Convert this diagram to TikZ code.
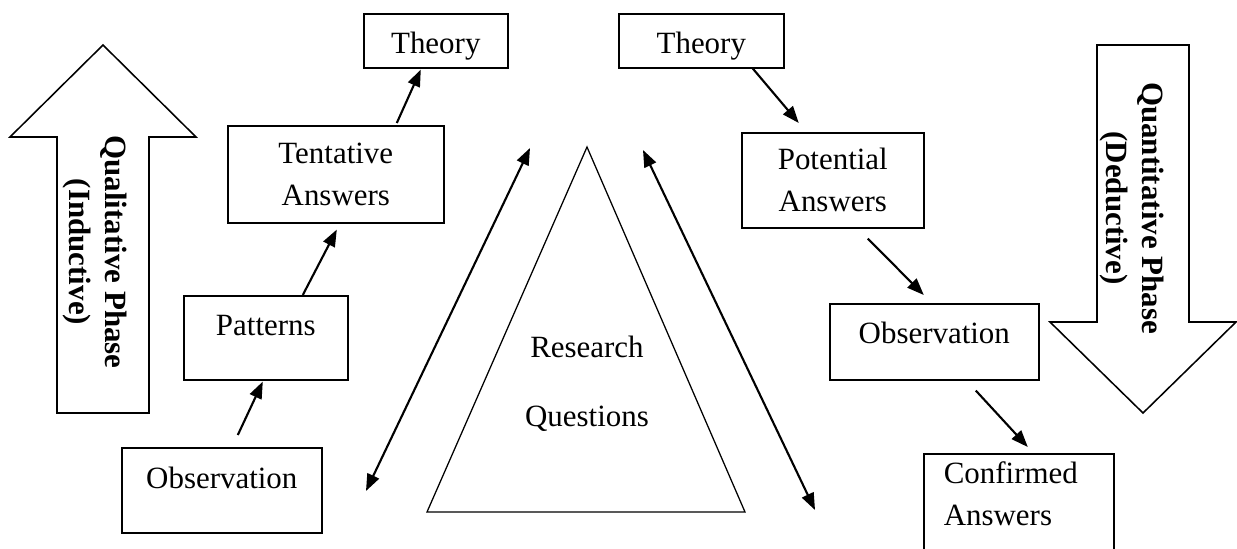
\documentclass[tikz,border=0pt]{standalone}
\usepackage{fontspec}
\setmainfont{Liberation Serif}
\usetikzlibrary{arrows.meta,positioning,calc}

\begin{document}
\begin{tikzpicture}[
  x=0.025cm, y=-0.025cm,
  box/.style={draw, line width=1.1pt, inner sep=0pt, anchor=north west,
              font=\fontsize{22}{30}\selectfont},
  phase/.style={font=\fontsize{22}{26}\selectfont\bfseries,
                align=center, rotate=-90},
  bigarrow/.style={draw, line width=1.1pt},
  arr/.style={-{Triangle[length=12pt,width=9pt]}, line width=1.5pt},
  dbl/.style={{Triangle[length=12pt,width=9pt]}-{Triangle[length=12pt,width=9pt]},
              line width=1.5pt}
]
\useasboundingbox (0,0) rectangle (1237,548);
\clip (0,0) rectangle (1237,548);

% --- Phase arrows ---
\draw[bigarrow] (103,45) -- (196,137) -- (149,137) -- (149,413)
  -- (57,413) -- (57,137) -- (10,137) -- cycle;
\node[phase] (qual) at (95,252) {Qualitative Phase\\(Inductive)};

\draw[bigarrow] (1097,45) -- (1189,45) -- (1189,322) -- (1236,322)
  -- (1143,413) -- (1050,322) -- (1097,322) -- cycle;
\node[phase] (quan) at (1132,208) {Quantitative Phase\\(Deductive)};

% --- Research questions ---
\draw[line width=0.9pt] (587,147) -- (745,512) -- (427,512) -- cycle;
\node[font=\fontsize{22}{30}\selectfont, align=center] (rq) at (587,384)
  {Research\\[0.67cm]Questions};

\coordinate (lq1) at (366,491);
\coordinate (lq2) at (530,148);
\coordinate (rq1) at (643,150);
\coordinate (rq2) at (815,510);
\draw[dbl] (lq1) -- (lq2);
\draw[dbl] (rq1) -- (rq2);

% --- Inductive side ---
\node[box, minimum width=5.0cm, text height=1.025cm, text depth=1.1cm]
  (obsL) at (121,447) {Observation};
\node[box, minimum width=4.1cm, text height=1.0cm, text depth=1.1cm]
  (pat) at (183,295) {Patterns};
\node[box, minimum width=5.4cm, minimum height=2.425cm, align=center]
  (tent) at (227,125) {Tentative\\Answers};
\node[box, minimum width=3.6cm, text height=1.0cm, text depth=0.35cm]
  (theoL) at (363,13) {Theory};

\draw[arr] ($(obsL.north)+(16,-12)$) -- ($(pat.south)+(-3,1)$);
\draw[arr] ($(pat.north)+(37,0)$) -- ($(tent.south)+(1,6)$);
\draw[arr] ($(tent.north)+(61,-2)$) -- ($(theoL.south)+(-15,1)$);

% --- Deductive side ---
\node[box, minimum width=4.125cm, text height=1.0cm, text depth=0.35cm]
  (theoR) at (618,13) {Theory};
\node[box, minimum width=4.55cm, minimum height=2.375cm, align=center]
  (pot) at (741,132) {Potential\\Answers};
\node[box, minimum width=5.225cm, text height=1.0cm, text depth=0.9cm]
  (obsR) at (829,303) {Observation};
\node[box, minimum width=4.75cm, minimum height=3.2cm, align=left,
      inner xsep=0.5cm, text width=3.75cm]
  (conf) at (923,453) {Confirmed\\Answers\\[0.15cm]\mbox{}};

\draw[arr] ($(theoR.south)+(51.5,0)$) -- ($(pot.north)+(-34,-9)$);
\draw[arr] ($(pot.south)+(35,10)$) -- ($(obsR.north)+(-10.5,-8)$);
\draw[arr] ($(obsR.south)+(41.5,10)$) -- ($(conf.north)+(9,-6)$);
\end{tikzpicture}
\end{document}
